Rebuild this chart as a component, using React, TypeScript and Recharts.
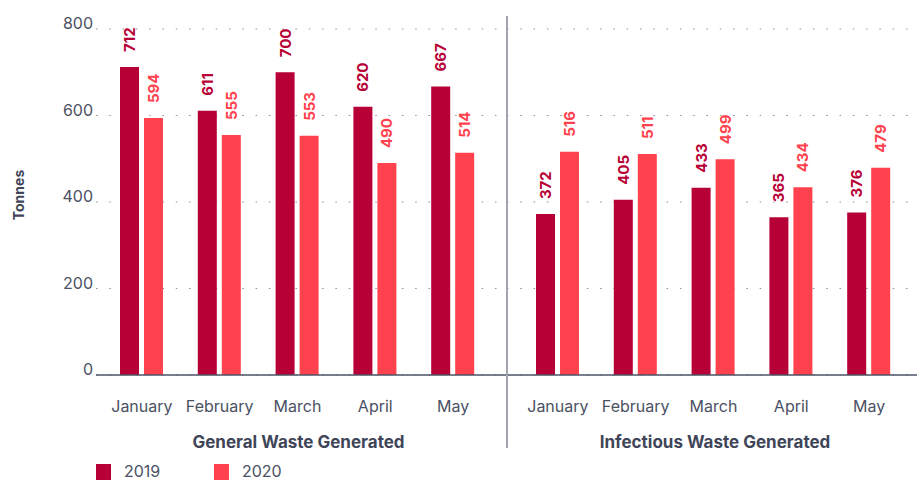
import React from 'react';
import { BarChart, Bar, XAxis, YAxis, CartesianGrid, LabelList } from 'recharts';

const months = ['January', 'February', 'March', 'April', 'May'];
const general2019 = [712, 611, 700, 620, 667];
const general2020 = [594, 555, 553, 490, 514];
const infectious2019 = [372, 405, 433, 365, 376];
const infectious2020 = [516, 511, 499, 434, 479];
const yTicks = [0, 200, 400, 600, 800];
const groupLabels = ['General Waste Generated', 'Infectious Waste Generated'];
const seriesNames = ['2019', '2020'];
const seriesColors = ['#b70035', '#ff424d'];

const generalData = months.map((m, i) => ({ month: m, y2019: general2019[i], y2020: general2020[i] }));
const infectiousData = months.map((m, i) => ({ month: m, y2019: infectious2019[i], y2020: infectious2020[i] }));

const TEXT = '#4b5164';
const FONT = 'Inter, "Noto Sans", sans-serif';

const YTick = (props: any) => {
  const { x, y, payload } = props;
  return (
    <text x={x} y={y} textAnchor="end" fill={TEXT} fontSize={16} fontFamily={FONT}>
      {payload.value}
    </text>
  );
};

const makeBarLabel = (color: string) => (props: any) => {
  const { x, y, width, value } = props;
  const cx = x + width / 2;
  const ty = y - 15;
  return (
    <text
      x={cx}
      y={ty}
      transform={`rotate(-90, ${cx}, ${ty})`}
      textAnchor="start"
      dominantBaseline="central"
      fill={color}
      fontSize={15}
      fontWeight={700}
      fontFamily={FONT}
    >
      {value}
    </text>
  );
};

const makeGroupLabel = (text: string, dx: number) => (props: any) => {
  const vb = props.viewBox || {};
  return (
    <text
      x={vb.x + vb.width / 2 + dx}
      y={vb.y + 73}
      textAnchor="middle"
      fill="#3f4558"
      fontSize={17}
      fontWeight={700}
      fontFamily={FONT}
    >
      {text}
    </text>
  );
};

const TonnesLabel = (props: any) => {
  const vb = props.viewBox || {};
  const lx = 18;
  const ly = vb.y + vb.height / 2 - 7;
  return (
    <text
      x={lx}
      y={ly}
      transform={`rotate(-90, ${lx}, ${ly})`}
      textAnchor="middle"
      dominantBaseline="central"
      fill="#3f4558"
      fontSize={14}
      fontWeight={700}
      fontFamily={FONT}
    >
      Tonnes
    </text>
  );
};

const margin = { top: 29, right: 0, bottom: 76, left: 0 };

export default function App() {
  return (
    <div
      style={{
        position: 'absolute',
        left: 0,
        top: 0,
        width: 917,
        height: 481,
        overflow: 'hidden',
        background: '#ffffff',
        fontFamily: FONT,
      }}
    >
      <div style={{ position: 'absolute', left: 0, top: 0 }}>
        <BarChart width={507} height={481} data={generalData} margin={margin} barSize={19} barGap={5}>
          <CartesianGrid vertical={false} stroke="#8e929c" strokeDasharray="1.5 11.8" />
          <YAxis
            width={96}
            domain={[0, 800]}
            ticks={yTicks}
            axisLine={false}
            tickLine={false}
            tickSize={0}
            tickMargin={3}
            tick={<YTick />}
            label={<TonnesLabel />}
          />
          <XAxis
            dataKey="month"
            height={30}
            padding={{ left: 7, right: 15 }}
            tickLine={false}
            tickSize={0}
            tickMargin={26}
            axisLine={{ stroke: '#4d5366', strokeWidth: 1.5 }}
            tick={{ fill: TEXT, fontSize: 16, fontFamily: FONT }}
            label={makeGroupLabel(groupLabels[0], -3)}
          />
          <Bar dataKey="y2019" name={seriesNames[0]} fill={seriesColors[0]} isAnimationActive={false}>
            <LabelList dataKey="y2019" content={makeBarLabel(seriesColors[0])} />
          </Bar>
          <Bar dataKey="y2020" name={seriesNames[1]} fill={seriesColors[1]} isAnimationActive={false}>
            <LabelList dataKey="y2020" content={makeBarLabel(seriesColors[1])} />
          </Bar>
        </BarChart>
      </div>
      <div style={{ position: 'absolute', left: 507, top: 0 }}>
        <BarChart width={410} height={481} data={infectiousData} margin={margin} barSize={19} barGap={5}>
          <CartesianGrid vertical={false} stroke="#8e929c" strokeDasharray="1.5 11.8" />
          <YAxis hide width={0} domain={[0, 800]} ticks={yTicks} />
          <XAxis
            dataKey="month"
            height={30}
            padding={{ left: 12, right: 9 }}
            tickLine={false}
            tickSize={0}
            tickMargin={26}
            axisLine={{ stroke: '#4d5366', strokeWidth: 1.5 }}
            tick={{ fill: TEXT, fontSize: 16, fontFamily: FONT }}
            label={makeGroupLabel(groupLabels[1], 3)}
          />
          <Bar dataKey="y2019" name={seriesNames[0]} fill={seriesColors[0]} isAnimationActive={false}>
            <LabelList dataKey="y2019" content={makeBarLabel(seriesColors[0])} />
          </Bar>
          <Bar dataKey="y2020" name={seriesNames[1]} fill={seriesColors[1]} isAnimationActive={false}>
            <LabelList dataKey="y2020" content={makeBarLabel(seriesColors[1])} />
          </Bar>
        </BarChart>
      </div>
      <div
        style={{
          position: 'absolute',
          left: 506,
          top: 16,
          width: 2,
          height: 432,
          background: '#a2a5af',
        }}
      />
      {seriesNames.map((name, i) => (
        <div
          key={name}
          style={{
            position: 'absolute',
            left: 96 + i * 118,
            top: 464,
            display: 'flex',
            alignItems: 'flex-start',
            height: 17,
          }}
        >
          <div style={{ width: 15, height: 16, background: seriesColors[i] }} />
          <div style={{ marginLeft: 13, marginTop: -1, fontSize: 16, color: TEXT, lineHeight: '17px' }}>{name}</div>
        </div>
      ))}
    </div>
  );
}
